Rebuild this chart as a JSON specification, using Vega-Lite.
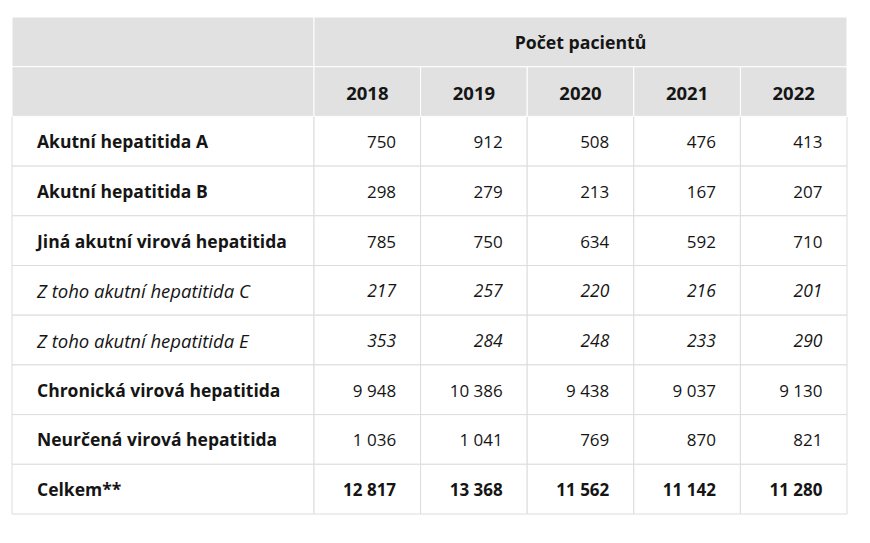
{
  "$schema": "https://vega.github.io/schema/vega-lite/v6.json",
  "background": "white",
  "padding": {"left": 11, "top": 16, "right": 0, "bottom": 0},
  "bounds": "flush",
  "config": {
    "view": {"stroke": null},
    "concat": {"spacing": 0},
    "locale": {"number": {"decimal": ",", "thousands": " ", "grouping": [3], "currency": ["", " Kč"]}},
    "text": {"font": "Open Sans", "fontSize": 17, "color": "#151515", "baseline": "middle", "dy": 2}
  },
  "datasets": {
    "cells": [
      {"row": "Akutní hepatitida A", "year": "2018", "value": 750},
      {"row": "Akutní hepatitida A", "year": "2019", "value": 912},
      {"row": "Akutní hepatitida A", "year": "2020", "value": 508},
      {"row": "Akutní hepatitida A", "year": "2021", "value": 476},
      {"row": "Akutní hepatitida A", "year": "2022", "value": 413},
      {"row": "Akutní hepatitida B", "year": "2018", "value": 298},
      {"row": "Akutní hepatitida B", "year": "2019", "value": 279},
      {"row": "Akutní hepatitida B", "year": "2020", "value": 213},
      {"row": "Akutní hepatitida B", "year": "2021", "value": 167},
      {"row": "Akutní hepatitida B", "year": "2022", "value": 207},
      {"row": "Jiná akutní virová hepatitida", "year": "2018", "value": 785},
      {"row": "Jiná akutní virová hepatitida", "year": "2019", "value": 750},
      {"row": "Jiná akutní virová hepatitida", "year": "2020", "value": 634},
      {"row": "Jiná akutní virová hepatitida", "year": "2021", "value": 592},
      {"row": "Jiná akutní virová hepatitida", "year": "2022", "value": 710},
      {"row": "Z toho akutní hepatitida C", "year": "2018", "value": 217},
      {"row": "Z toho akutní hepatitida C", "year": "2019", "value": 257},
      {"row": "Z toho akutní hepatitida C", "year": "2020", "value": 220},
      {"row": "Z toho akutní hepatitida C", "year": "2021", "value": 216},
      {"row": "Z toho akutní hepatitida C", "year": "2022", "value": 201},
      {"row": "Z toho akutní hepatitida E", "year": "2018", "value": 353},
      {"row": "Z toho akutní hepatitida E", "year": "2019", "value": 284},
      {"row": "Z toho akutní hepatitida E", "year": "2020", "value": 248},
      {"row": "Z toho akutní hepatitida E", "year": "2021", "value": 233},
      {"row": "Z toho akutní hepatitida E", "year": "2022", "value": 290},
      {"row": "Chronická virová hepatitida", "year": "2018", "value": 9948},
      {"row": "Chronická virová hepatitida", "year": "2019", "value": 10386},
      {"row": "Chronická virová hepatitida", "year": "2020", "value": 9438},
      {"row": "Chronická virová hepatitida", "year": "2021", "value": 9037},
      {"row": "Chronická virová hepatitida", "year": "2022", "value": 9130},
      {"row": "Neurčená virová hepatitida", "year": "2018", "value": 1036},
      {"row": "Neurčená virová hepatitida", "year": "2019", "value": 1041},
      {"row": "Neurčená virová hepatitida", "year": "2020", "value": 769},
      {"row": "Neurčená virová hepatitida", "year": "2021", "value": 870},
      {"row": "Neurčená virová hepatitida", "year": "2022", "value": 821},
      {"row": "Celkem**", "year": "2018", "value": 12817},
      {"row": "Celkem**", "year": "2019", "value": 13368},
      {"row": "Celkem**", "year": "2020", "value": 11562},
      {"row": "Celkem**", "year": "2021", "value": 11142},
      {"row": "Celkem**", "year": "2022", "value": 11280}
    ]
  },
  "hconcat": [
    {
      "width": 302,
      "height": 497,
      "data": {"name": "cells"},
      "transform": [{"filter": "datum.year == '2018'"}],
      "encoding": {
        "y": {
          "field": "row", "type": "nominal", "axis": null,
          "scale": {
            "domain": ["h1", "h2", "Akutní hepatitida A", "Akutní hepatitida B", "Jiná akutní virová hepatitida", "Z toho akutní hepatitida C", "Z toho akutní hepatitida E", "Chronická virová hepatitida", "Neurčená virová hepatitida", "Celkem**"],
            "paddingInner": 0, "paddingOuter": 0
          }
        }
      },
      "layer": [
        {"mark": {"type": "rect", "fill": "white", "stroke": "#dcdcdc", "strokeWidth": 1}},
        {
          "transform": [{"filter": "datum.row == 'Celkem**'"}],
          "mark": {"type": "rect", "fill": "#e1e1e1", "stroke": "white", "strokeWidth": 1},
          "encoding": {"y": {"datum": "h1", "type": "nominal"}}
        },
        {
          "transform": [{"filter": "datum.row == 'Celkem**'"}],
          "mark": {"type": "rect", "fill": "#e1e1e1", "stroke": "white", "strokeWidth": 1},
          "encoding": {"y": {"datum": "h2", "type": "nominal"}}
        },
        {
          "transform": [{"filter": "indexof(datum.row, 'Z toho') != 0"}],
          "mark": {"type": "text", "align": "left", "dx": 25, "fontWeight": "bold", "fontSize": 17.5},
          "encoding": {
            "x": {"datum": "label", "type": "nominal", "bandPosition": 0, "axis": null, "scale": {"type": "band", "paddingInner": 0, "paddingOuter": 0}},
            "text": {"field": "row"}
          }
        },
        {
          "transform": [{"filter": "indexof(datum.row, 'Z toho') == 0"}],
          "mark": {"type": "text", "align": "left", "dx": 25, "fontStyle": "italic", "fontSize": 18.5},
          "encoding": {
            "x": {"datum": "label", "type": "nominal", "bandPosition": 0, "axis": null, "scale": {"type": "band", "paddingInner": 0, "paddingOuter": 0}},
            "text": {"field": "row"}
          }
        }
      ]
    },
    {
      "width": 533,
      "height": 497,
      "data": {"name": "cells"},
      "encoding": {
        "y": {
          "field": "row", "type": "nominal", "axis": null,
          "scale": {
            "domain": ["h1", "h2", "Akutní hepatitida A", "Akutní hepatitida B", "Jiná akutní virová hepatitida", "Z toho akutní hepatitida C", "Z toho akutní hepatitida E", "Chronická virová hepatitida", "Neurčená virová hepatitida", "Celkem**"],
            "paddingInner": 0, "paddingOuter": 0
          }
        },
        "x": {"field": "year", "type": "ordinal", "axis": null, "scale": {"type": "band", "paddingInner": 0, "paddingOuter": 0}}
      },
      "layer": [
        {"mark": {"type": "rect", "fill": "white", "stroke": "#dcdcdc", "strokeWidth": 1}},
        {
          "transform": [{"filter": "datum.row == 'Celkem**'"}],
          "mark": {"type": "rect", "fill": "#e1e1e1", "stroke": "white", "strokeWidth": 1},
          "encoding": {"y": {"datum": "h2", "type": "nominal"}}
        },
        {
          "transform": [{"filter": "datum.row == 'Celkem**' && datum.year == '2020'"}],
          "mark": {"type": "rect", "fill": "#e1e1e1", "stroke": "white", "strokeWidth": 1},
          "encoding": {"y": {"datum": "h1", "type": "nominal"}, "x": null}
        },
        {
          "transform": [{"filter": "datum.row == 'Celkem**'"}],
          "mark": {"type": "text", "fontWeight": "bold", "fontSize": 18.5},
          "encoding": {"y": {"datum": "h2", "type": "nominal"}, "text": {"field": "year"}}
        },
        {
          "transform": [{"filter": "datum.row == 'Celkem**' && datum.year == '2020'"}],
          "mark": {"type": "text", "fontWeight": "bold", "fontSize": 17.7},
          "encoding": {"y": {"datum": "h1", "type": "nominal"}, "text": {"value": "Počet pacientů"}}
        },
        {
          "transform": [{"filter": "indexof(datum.row, 'Z toho') != 0 && datum.row != 'Celkem**'"}],
          "mark": {"type": "text", "align": "right", "dx": -24.5},
          "encoding": {"x": {"field": "year", "type": "ordinal", "bandPosition": 1}, "text": {"field": "value", "type": "quantitative", "format": ","}}
        },
        {
          "transform": [{"filter": "indexof(datum.row, 'Z toho') == 0"}],
          "mark": {"type": "text", "align": "right", "dx": -24.5, "fontStyle": "italic", "fontSize": 17.5},
          "encoding": {"x": {"field": "year", "type": "ordinal", "bandPosition": 1}, "text": {"field": "value", "type": "quantitative", "format": ","}}
        },
        {
          "transform": [{"filter": "datum.row == 'Celkem**'"}],
          "mark": {"type": "text", "align": "right", "dx": -24.5, "fontWeight": "bold", "fontSize": 17},
          "encoding": {"x": {"field": "year", "type": "ordinal", "bandPosition": 1}, "text": {"field": "value", "type": "quantitative", "format": ","}}
        }
      ]
    }
  ]
}
